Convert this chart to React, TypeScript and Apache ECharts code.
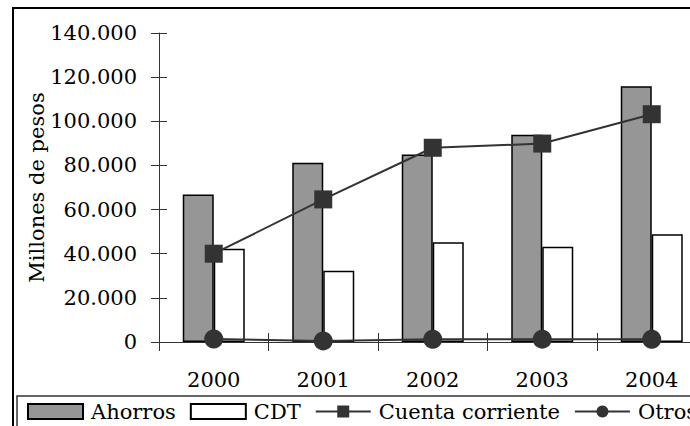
import React, { useEffect, useRef } from "react";
import * as echarts from "echarts";

const years = ["2000", "2001", "2002", "2003", "2004"];
const ahorros = [66800, 81200, 85000, 93900, 115900];
const cdt = [42300, 32300, 45200, 43200, 48800];
const cuentaCorriente = [40000, 64600, 88000, 89900, 103200];
const otros = [1400, 500, 1200, 1300, 1200];

const FONT = "DejaVu Serif";

export default function App() {
  const ref = useRef<HTMLDivElement>(null);
  useEffect(() => {
    document.body.style.margin = "0";
    const chart = echarts.init(ref.current!, null, { renderer: "svg" });
    const fmt = (v: number) => (v === 0 ? "0" : `${Math.round(v / 1000)}.000`);
    const yBase = {
      type: "value",
      min: 0,
      max: 140000,
      interval: 20000,
      splitLine: { show: false },
    };
    chart.setOption({
      animation: false,
      backgroundColor: "#ffffff",
      textStyle: { fontFamily: FONT },
      graphic: [
        {
          type: "rect",
          shape: { x: 13, y: 8, width: 820, height: 470 },
          style: { fill: "none", stroke: "#000", lineWidth: 2 },
          z: 100,
        },
      ],
      grid: { left: 159, top: 33, width: 547.5, height: 309 },
      legend: {
        left: 17,
        top: 396,
        padding: [5, 40, 8, 10],
        borderColor: "#333",
        borderWidth: 1.5,
        itemWidth: 55,
        itemHeight: 15,
        itemGap: 14,
        textStyle: { fontFamily: FONT, fontSize: 21, color: "#000", padding: [0, 0, 0, 3] },
        data: [
          { name: "Ahorros", icon: "rect" },
          { name: "CDT", icon: "rect" },
          "Cuenta corriente",
          "Otros",
        ],
      },
      xAxis: [
        {
          type: "category",
          data: years,
          position: "bottom",
          boundaryGap: true,
          axisLine: { lineStyle: { color: "#333", width: 1 } },
          axisTick: { show: true, length: 9, inside: false, lineStyle: { color: "#333" } },
          axisLabel: { fontFamily: FONT, fontSize: 21, color: "#000", margin: 27 },
        },
        {
          type: "category",
          data: years,
          position: "bottom",
          boundaryGap: true,
          axisLine: { show: false },
          axisTick: { show: true, length: 9, inside: true, lineStyle: { color: "#333" } },
          axisLabel: { show: false },
        },
      ],
      yAxis: [
        {
          ...yBase,
          position: "left",
          name: "Millones de pesos",
          nameLocation: "middle",
          nameRotate: 90,
          nameGap: 112,
          nameMoveOverlap: false,
          nameTextStyle: { fontFamily: FONT, fontSize: 21, color: "#000" },
          axisLine: { show: true, lineStyle: { color: "#333", width: 1 } },
          axisTick: { show: true, length: 8, inside: false, lineStyle: { color: "#333" } },
          axisLabel: { fontFamily: FONT, fontSize: 21, color: "#000", margin: 22, formatter: fmt },
        },
        {
          ...yBase,
          position: "left",
          axisLine: { show: false },
          axisTick: { show: true, length: 8, inside: true, lineStyle: { color: "#333" } },
          axisLabel: { show: false },
        },
      ],
      series: [
        {
          name: "Ahorros",
          type: "bar",
          data: ahorros,
          barWidth: 31,
          barGap: "0%",
          itemStyle: { color: "#969696", borderColor: "#000", borderWidth: 1.5 },
        },
        {
          name: "CDT",
          type: "bar",
          data: cdt,
          barWidth: 31,
          barGap: "0%",
          itemStyle: { color: "#ffffff", borderColor: "#000", borderWidth: 1.5 },
        },
        {
          name: "Cuenta corriente",
          type: "line",
          data: cuentaCorriente,
          symbol: "rect",
          symbolSize: 18,
          itemStyle: { color: "#333333" },
          lineStyle: { color: "#333333", width: 2 },
          z: 5,
        },
        {
          name: "Otros",
          type: "line",
          data: otros,
          symbol: "circle",
          symbolSize: 19,
          itemStyle: { color: "#333333" },
          lineStyle: { color: "#333333", width: 2 },
          z: 5,
        },
      ],
    });
    return () => chart.dispose();
  }, []);
  return (
    <div style={{ position: "absolute", left: 0, top: 0, width: 690, height: 426, overflow: "hidden" }}>
      <div ref={ref} style={{ position: "absolute", left: 0, top: 0, width: 860, height: 480 }} />
    </div>
  );
}
